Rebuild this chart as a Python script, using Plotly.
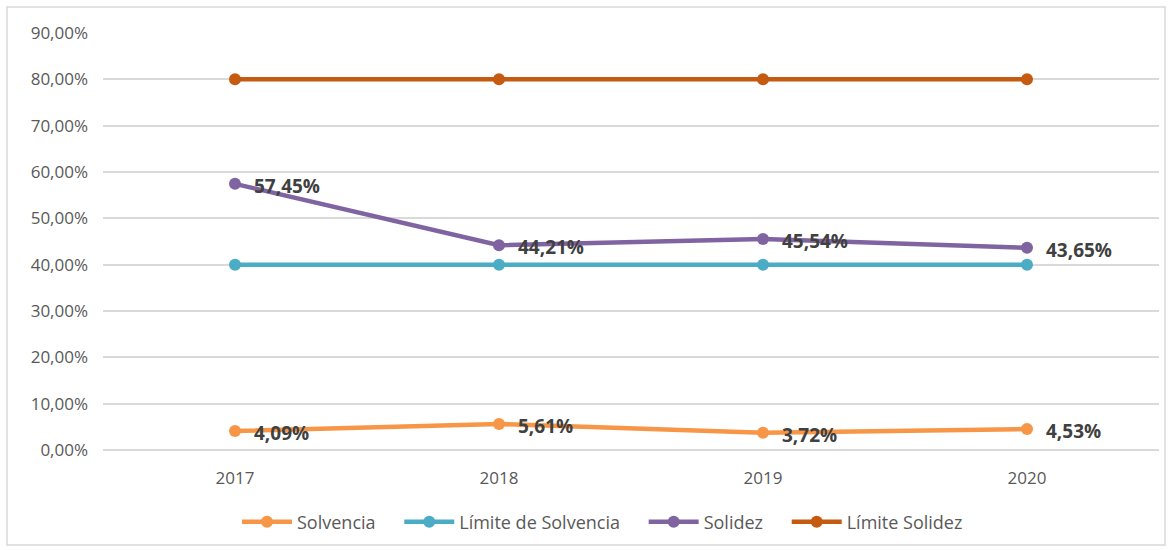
import plotly.graph_objects as go

years = ["2017", "2018", "2019", "2020"]
solvencia = [0.0409, 0.0561, 0.0372, 0.0453]
limite_solvencia = [0.40, 0.40, 0.40, 0.40]
solidez = [0.5745, 0.4421, 0.4554, 0.4365]
limite_solidez = [0.80, 0.80, 0.80, 0.80]

FONT = "Open Sans, Liberation Sans, sans-serif"
label_font = dict(family=FONT, size=19, color="#404040")
PAD = "\u00a0" * 4

fig = go.Figure()
annotations = []

def add(name, vals, color, labels):
    fig.add_trace(go.Scatter(
        x=years, y=vals, name=name + PAD, mode="lines+markers",
        line=dict(color=color, width=4.5),
        marker=dict(color=color, size=12),
        cliponaxis=False,
    ))
    if labels:
        for i, yv in enumerate(vals):
            annotations.append(dict(
                x=i, y=yv, xref="x", yref="y", showarrow=False,
                text="<b>" + f"{yv*100:.2f}%".replace(".", ",") + "</b>",
                xanchor="left", yanchor="middle", xshift=17, yshift=-2,
                font=label_font,
            ))

add("Solvencia", solvencia, "#F79646", True)
add("Límite de Solvencia", limite_solvencia, "#4BACC6", False)
add("Solidez", solidez, "#8064A2", True)
add("Límite Solidez", limite_solidez, "#C55A11", False)

W, H = 1172, 550
l, r, t, b = 103, 13, 33, 100
pw, ph = W - l - r, H - t - b

def px(x):
    return (x - l) / pw

def py(y):
    return (H - b - y) / ph

fig.update_layout(
    width=W, height=H,
    margin=dict(l=l, r=r, t=t, b=b, autoexpand=False),
    paper_bgcolor="white", plot_bgcolor="white",
    separators=",.",
    font=dict(family=FONT, size=17, color="#595959"),
    showlegend=True,
    legend=dict(orientation="h", x=px(612), xanchor="center", y=py(522), yanchor="middle",
                font=dict(family=FONT, size=18, color="#595959"), itemwidth=50),
    xaxis=dict(type="category", range=[-0.5, 3.5], showgrid=False, showline=False,
               automargin=False,
               ticks="", ticklabelstandoff=16, tickfont=dict(size=17, color="#595959")),
    yaxis=dict(range=[0, 0.9], dtick=0.1, tickformat=".2%", showgrid=True, automargin=False,
               gridcolor="#D9D9D9", gridwidth=1.5, zeroline=True, zerolinecolor="#D9D9D9",
               zerolinewidth=1.5, showline=False, ticks="", ticklabelstandoff=14,
               tickfont=dict(size=17, color="#595959")),
    annotations=annotations,
    shapes=[dict(type="rect", xref="paper", yref="paper",
                 x0=px(7), x1=px(1165), y0=py(545), y1=py(7),
                 line=dict(color="#D9D9D9", width=1.5), fillcolor="rgba(0,0,0,0)", layer="below")],
)

fig.write_html("out.html")
